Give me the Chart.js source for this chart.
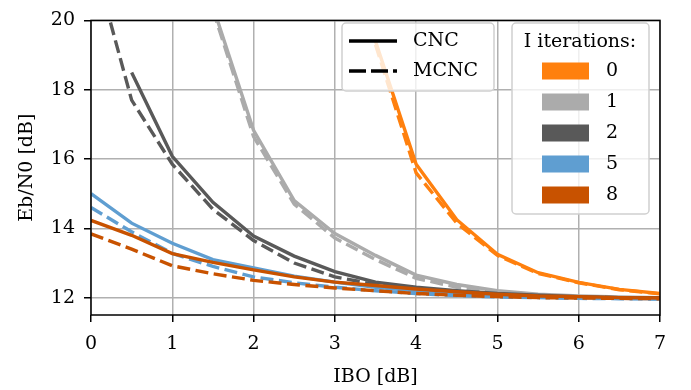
<!DOCTYPE html>
<html>
<head>
<meta charset="utf-8">
<script src="https://cdn.jsdelivr.net/npm/chart.js@4.4.1/dist/chart.umd.min.js"></script>
<style>
  html, body { margin: 0; padding: 0; background: #fff; }
  #wrap { width: 691px; height: 390px; }
</style>
</head>
<body>
<div id="wrap"><canvas id="eqChart" width="691" height="390"></canvas></div>
<script>
// IBO sweep (dB)
const ibo = [0, 0.5, 1, 1.5, 2, 2.5, 3, 3.5, 4, 4.5, 5, 5.5, 6, 6.5, 7];
const yTicks = [12, 14, 16, 18, 20];
const iterations = ['0', '1', '2', '5', '8'];
const colors = ['#FF800E', '#ABABAB', '#595959', '#5F9ED1', '#C85200'];

// required Eb/N0 (dB), solid = CNC, dashed = MCNC
const cnc0 = [null, null, null, null, null, null, null, 19.4, 15.85, 14.25, 13.25, 12.72, 12.44, 12.24, 12.12];
const mcnc0 = [null, null, null, null, null, null, null, 19.3, 15.6, 14.15, 13.22, 12.7, 12.43, 12.23, 12.11];
const cnc1 = [null, null, null, 20.4, 16.83, 14.8, 13.85, 13.22, 12.65, 12.38, 12.2, 12.1, 12.05, 12.02, 12.0];
const mcnc1 = [null, null, null, 20.3, 16.65, 14.7, 13.72, 13.1, 12.56, 12.3, 12.15, 12.07, 12.02, 12.0, 11.99];
const cnc2 = [null, 18.5, 16.08, 14.75, 13.78, 13.2, 12.75, 12.45, 12.3, 12.2, 12.12, 12.07, 12.03, 12.0, 12.0];
const mcnc2 = [22, 17.7, 15.85, 14.55, 13.65, 13.0, 12.6, 12.38, 12.25, 12.15, 12.08, 12.04, 12.01, 12.0, 11.99];
const cnc5 = [15.0, 14.15, 13.57, 13.1, 12.86, 12.62, 12.45, 12.3, 12.2, 12.1, 12.05, 12.02, 12.0, 11.98, 11.97];
const mcnc5 = [14.6, 13.9, 13.28, 12.9, 12.6, 12.43, 12.3, 12.2, 12.12, 12.06, 12.02, 12.0, 11.98, 11.97, 11.96];
const cnc8 = [14.23, 13.8, 13.27, 13.02, 12.8, 12.6, 12.45, 12.35, 12.25, 12.17, 12.1, 12.05, 12.03, 12.0, 11.99];
const mcnc8 = [13.84, 13.4, 12.92, 12.69, 12.5, 12.38, 12.28, 12.2, 12.12, 12.07, 12.03, 12.0, 11.99, 11.98, 11.97];

const cncSeries = [cnc0, cnc1, cnc2, cnc5, cnc8];
const mcncSeries = [mcnc0, mcnc1, mcnc2, mcnc5, mcnc8];

const FONT = '"DejaVu Serif", serif';
const DASH = [13, 5.5];

Chart.defaults.font.family = FONT;
Chart.defaults.font.size = 19;
Chart.defaults.color = '#000';

const datasets = [];
iterations.forEach(function(it, i) {
   [cncSeries[i], mcncSeries[i]].forEach(function(vals, k) {
      datasets.push({
         label: (k ? 'MCNC ' : 'CNC ') + it,
         data: ibo.map(function(x, j) { return { x: x, y: vals[j] }; }),
         borderColor: colors[i],
         borderWidth: 3.4,
         borderDash: k ? DASH : [],
         pointRadius: 0,
         tension: 0,
         fill: false,
         spanGaps: false,
         order: 100 - datasets.length
      });
   });
});

// axes frame on all four sides plus the two legend boxes
const framePlugin = {
   id: 'frame',
   afterDatasetsDraw(chart) {
      const ctx = chart.ctx;
      const a = chart.chartArea;
      ctx.save();

      // line style legend
      ctx.beginPath();
      ctx.roundRect(342, 23, 152, 68, 4);
      ctx.fillStyle = 'rgba(255,255,255,0.8)';
      ctx.fill();
      ctx.strokeStyle = '#d0d0d0';
      ctx.lineWidth = 1.5;
      ctx.stroke();

      ctx.strokeStyle = '#000';
      ctx.lineWidth = 3.4;
      ctx.beginPath(); ctx.moveTo(349, 41); ctx.lineTo(397, 41); ctx.stroke();
      ctx.setLineDash([17, 5]);
      ctx.beginPath(); ctx.moveTo(349, 71); ctx.lineTo(397, 71); ctx.stroke();
      ctx.setLineDash([]);

      ctx.fillStyle = '#000';
      ctx.font = '19px ' + FONT;
      ctx.textBaseline = 'middle';
      ctx.textAlign = 'left';
      ctx.fillText('CNC', 413, 41);
      ctx.fillText('MCNC', 413, 71);

      // iteration colour legend
      ctx.beginPath();
      ctx.roundRect(512, 23, 137, 191, 4);
      ctx.fillStyle = 'rgba(255,255,255,0.8)';
      ctx.fill();
      ctx.strokeStyle = '#d0d0d0';
      ctx.lineWidth = 1.5;
      ctx.stroke();

      ctx.fillStyle = '#000';
      ctx.textAlign = 'center';
      ctx.fillText('I iterations:', 580, 42);
      iterations.forEach(function(it, i) {
         const cy = 71 + i * 31;
         ctx.fillStyle = colors[i];
         ctx.fillRect(542, cy - 8.5, 47, 17);
         ctx.fillStyle = '#000';
         ctx.fillText(it, 612, cy);
      });

      ctx.strokeStyle = '#000';
      ctx.lineWidth = 1.5;
      ctx.strokeRect(a.left, a.top, a.right - a.left, a.bottom - a.top);
      ctx.restore();
   }
};

new Chart(document.getElementById('eqChart'), {
   type: 'line',
   data: { datasets: datasets },
   plugins: [framePlugin],
   options: {
      responsive: false,
      animation: false,
      layout: { padding: { top: 12, right: 31, left: 0, bottom: 0 } },
      plugins: { legend: { display: false }, tooltip: { enabled: false } },
      scales: {
         x: {
            type: 'linear',
            min: 0,
            max: 7,
            ticks: { stepSize: 1, padding: 11 },
            grid: { color: '#b0b0b0', lineWidth: 1.5, tickLength: 7, tickColor: '#000', tickWidth: 1.5 },
            border: { display: false },
            title: { display: true, text: 'IBO [dB]', padding: { top: 0, bottom: 2 } },
            afterFit: function(scale) { scale.height = 75; }
         },
         y: {
            type: 'linear',
            min: 11.5,
            max: 20,
            afterBuildTicks: function(scale) {
               scale.ticks = yTicks.map(function(v) { return { value: v }; });
            },
            ticks: { padding: 9 },
            grid: { color: '#b0b0b0', lineWidth: 1.5, tickLength: 7, tickColor: '#000', tickWidth: 1.5 },
            border: { display: false },
            title: { display: true, text: 'Eb/N0 [dB]', padding: { top: 16, bottom: 0 } },
            afterFit: function(scale) { scale.width = 91; }
         }
      }
   }
});
</script>
</body>
</html>
